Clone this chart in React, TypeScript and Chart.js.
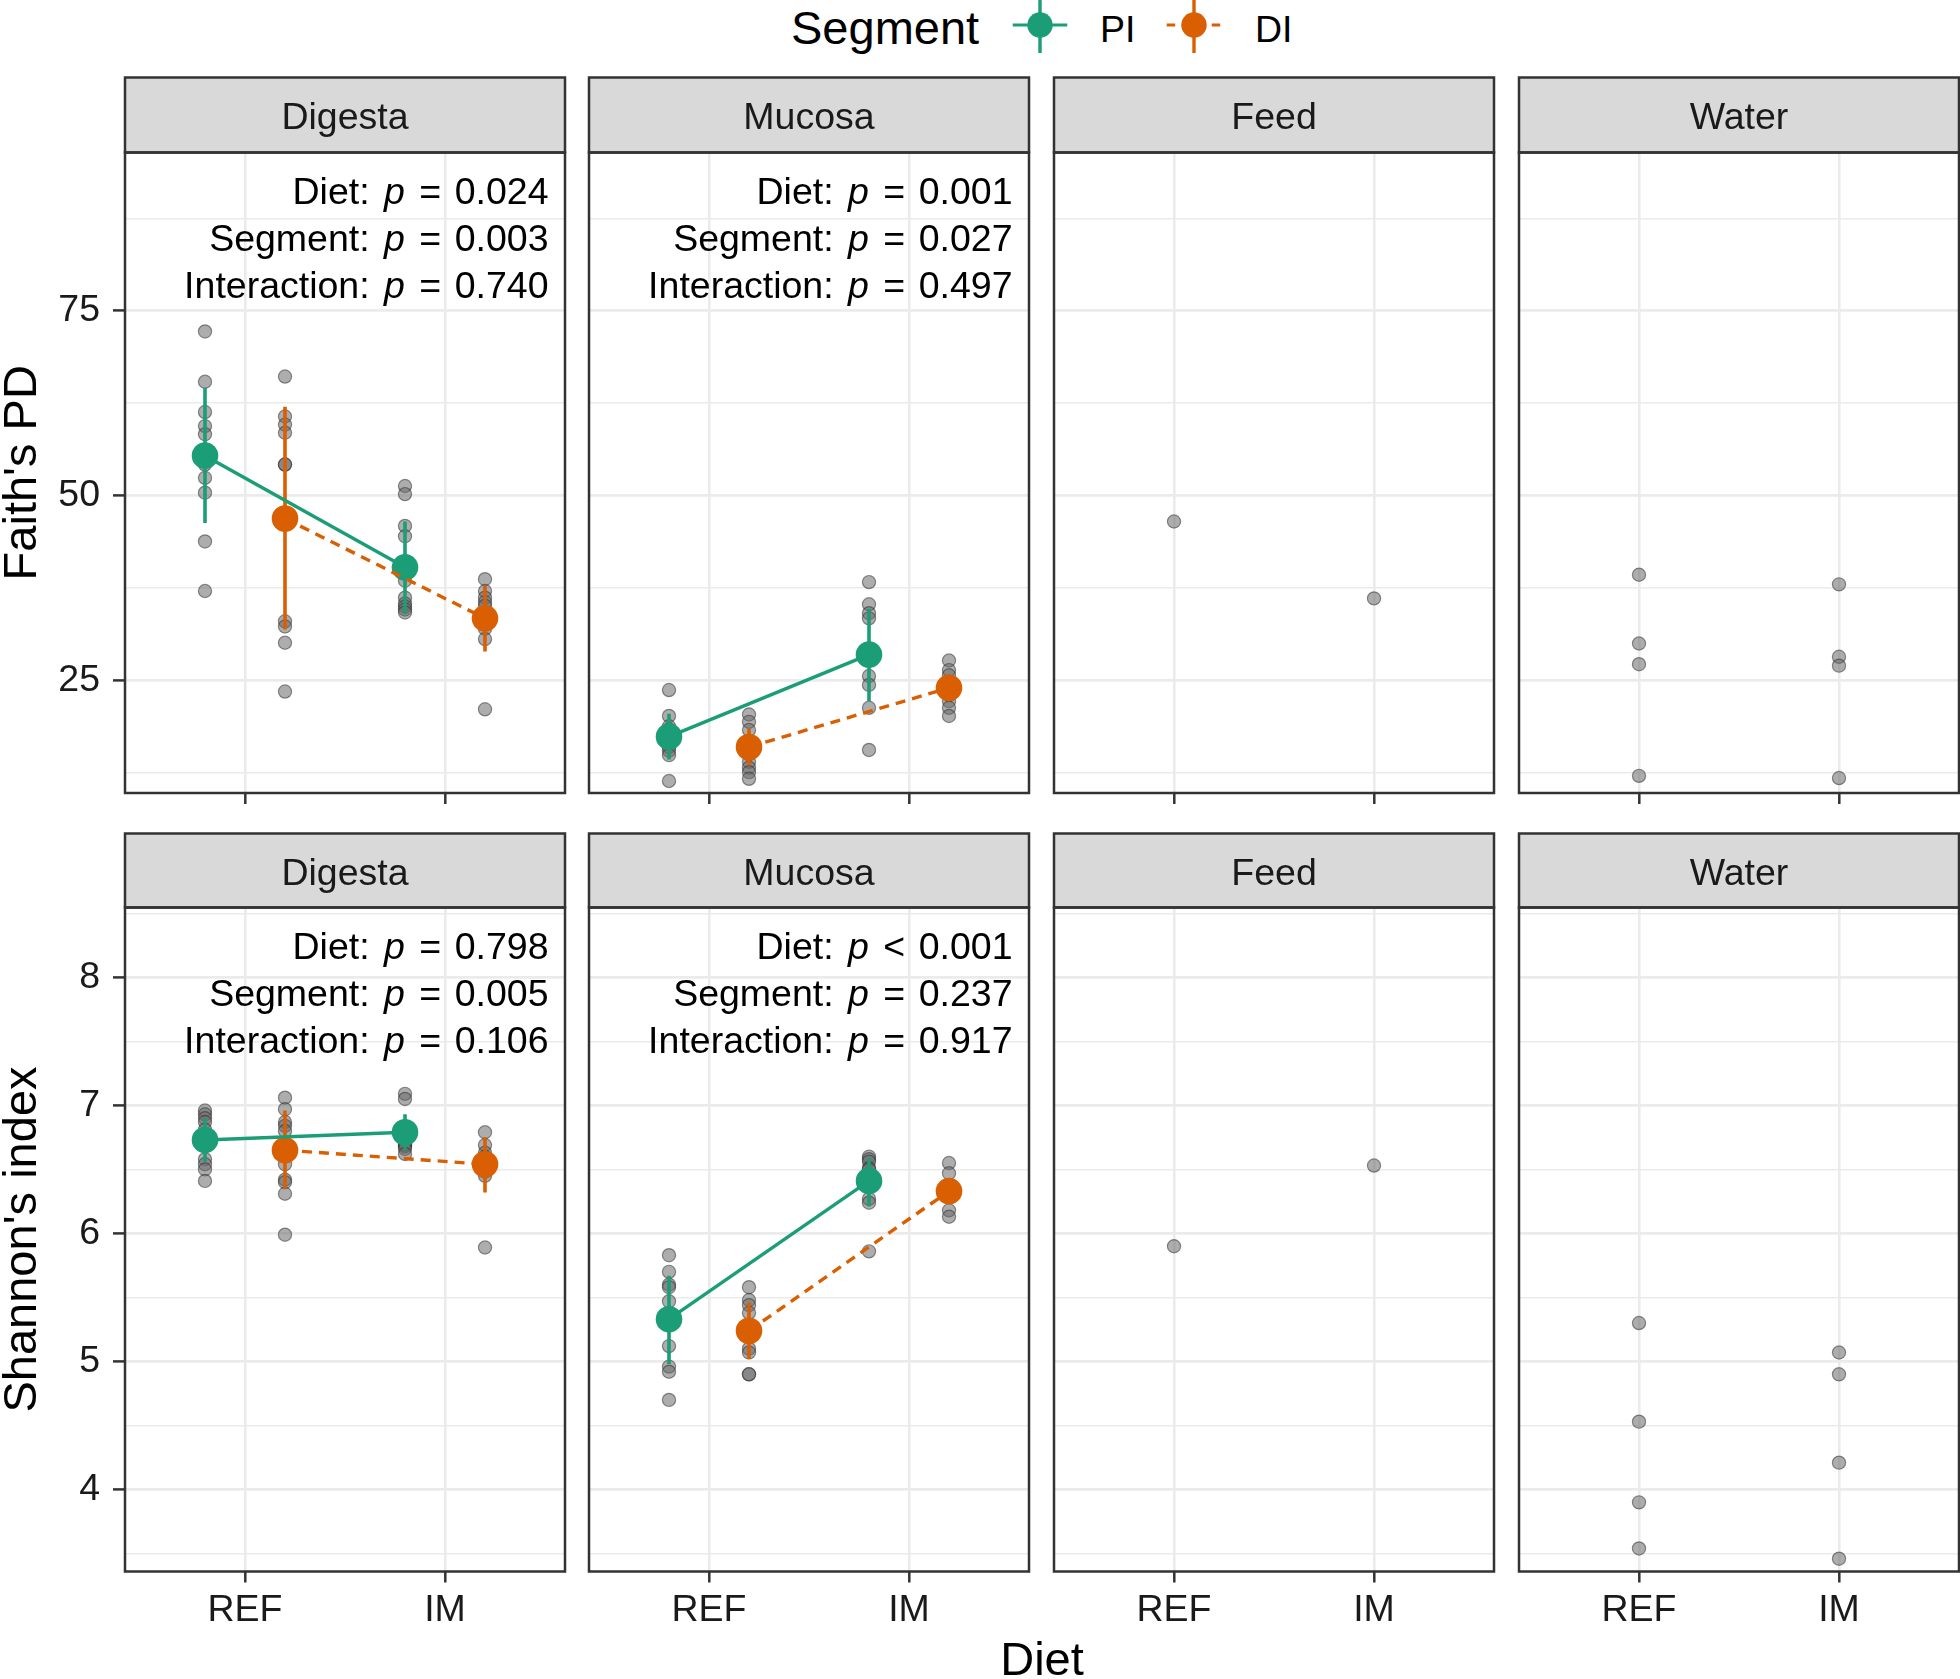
import React, { useEffect, useRef } from 'react';
import { Chart, registerables } from 'chart.js';

Chart.register(...registerables);

const FONT = '"Liberation Sans", Arial, Helvetica, sans-serif';
const TEXT = '#1a1a1a';
const GREEN = '#1B9E77';
const ORANGE = '#D95F02';

// ---------- categories / labels ----------
const dietLevels = ['REF', 'IM'];
const facetNames = ['Digesta', 'Mucosa', 'Feed', 'Water'];
const metricNames = ["Faith's PD", "Shannon's index"];
const segmentNames = ['PI', 'DI'];
const effectNames = ['Diet', 'Segment', 'Interaction'];
const xAxisTitle = 'Diet';
const legendTitle = 'Segment';

// ---------- y axis ticks ----------
const faithTicks = [12.5, 25, 37.5, 50, 62.5, 75, 87.5];
const faithTickLabels = [25, 50, 75];
const faithRange = [9.78, 96.4];
const shannonTicks = [3.5, 4, 4.5, 5, 5.5, 6, 6.5, 7, 7.5, 8, 8.5];
const shannonTickLabels = [4, 5, 6, 7, 8];
const shannonRange = [3.36, 8.545];

// ---------- Faith's PD: raw observations ----------
const faithDigestaPI_REF = [72.2, 65.4, 61.3, 59.4, 58.3, 54.2, 52.4, 50.4, 43.8, 37.1];
const faithDigestaPI_IM = [51.3, 50.2, 45.9, 44.5, 38.5, 36.2, 35.4, 35.0, 34.6, 34.2];
const faithDigestaDI_REF = [66.1, 60.7, 59.6, 58.5, 54.2, 54.2, 33.0, 32.3, 30.1, 23.5];
const faithDigestaDI_IM = [38.7, 37.1, 36.2, 35.6, 35.1, 33.5, 32.0, 30.6, 21.1];
const faithMucosaPI_REF = [23.7, 20.2, 18.8, 18.4, 17.7, 16.0, 15.5, 14.9, 11.4];
const faithMucosaPI_IM = [38.3, 35.3, 34.1, 33.4, 25.6, 24.4, 21.3, 15.6];
const faithMucosaDI_REF = [20.4, 19.4, 18.3, 16.0, 15.0, 14.0, 13.2, 12.6, 11.7];
const faithMucosaDI_IM = [27.7, 26.4, 25.7, 24.5, 23.0, 22.2, 21.3, 20.2];
const faithFeed_REF = [46.5];
const faithFeed_IM = [36.1];
const faithWater_REF = [39.3, 30.0, 27.2, 12.1];
const faithWater_IM = [38.0, 28.2, 27.0, 11.8];

// ---------- Faith's PD: group means and error bars [REF, IM] ----------
const faithDigestaPI_mean = [55.4, 40.3];
const faithDigestaPI_lo = [46.3, 34.0];
const faithDigestaPI_hi = [64.6, 46.5];
const faithDigestaDI_mean = [46.9, 33.4];
const faithDigestaDI_lo = [31.9, 28.9];
const faithDigestaDI_hi = [62.0, 37.8];
const faithMucosaPI_mean = [17.4, 28.5];
const faithMucosaPI_lo = [14.3, 22.2];
const faithMucosaPI_hi = [20.5, 34.7];
const faithMucosaDI_mean = [16.0, 24.0];
const faithMucosaDI_lo = [13.5, 22.2];
const faithMucosaDI_hi = [18.5, 25.8];

// ---------- Shannon's index: raw observations ----------
const shanDigestaPI_REF = [6.96, 6.93, 6.90, 6.87, 6.81, 6.58, 6.54, 6.50, 6.41];
const shanDigestaPI_IM = [7.09, 7.05, 6.70, 6.69, 6.68, 6.66, 6.62];
const shanDigestaDI_REF = [7.06, 6.97, 6.87, 6.84, 6.80, 6.54, 6.42, 6.40, 6.31, 5.99];
const shanDigestaDI_IM = [6.79, 6.69, 6.63, 6.60, 6.51, 6.48, 6.45, 5.89];
const shanMucosaPI_REF = [5.83, 5.70, 5.60, 5.58, 5.47, 5.12, 4.96, 4.92, 4.70];
const shanMucosaPI_IM = [6.60, 6.58, 6.56, 6.51, 6.50, 6.27, 6.24, 5.86];
const shanMucosaDI_REF = [5.58, 5.48, 5.44, 5.38, 5.10, 5.07, 4.90, 4.90];
const shanMucosaDI_IM = [6.55, 6.47, 6.35, 6.30, 6.18, 6.13];
const shanFeed_REF = [5.90];
const shanFeed_IM = [6.53];
const shanWater_REF = [5.30, 4.53, 3.90, 3.54];
const shanWater_IM = [5.07, 4.90, 4.21, 3.46];

// ---------- Shannon's index: group means and error bars [REF, IM] ----------
const shanDigestaPI_mean = [6.73, 6.79];
const shanDigestaPI_lo = [6.56, 6.65];
const shanDigestaPI_hi = [6.90, 6.93];
const shanDigestaDI_mean = [6.65, 6.54];
const shanDigestaDI_lo = [6.35, 6.32];
const shanDigestaDI_hi = [6.96, 6.75];
const shanMucosaPI_mean = [5.33, 6.41];
const shanMucosaPI_lo = [4.98, 6.21];
const shanMucosaPI_hi = [5.67, 6.59];
const shanMucosaDI_mean = [5.24, 6.33];
const shanMucosaDI_lo = [5.02, 6.24];
const shanMucosaDI_hi = [5.46, 6.42];

// ---------- p-value annotations: [operator, value] per effect ----------
const faithDigestaP = [['=', '0.024'], ['=', '0.003'], ['=', '0.740']];
const faithMucosaP = [['=', '0.001'], ['=', '0.027'], ['=', '0.497']];
const shanDigestaP = [['=', '0.798'], ['=', '0.005'], ['=', '0.106']];
const shanMucosaP = [['<', '0.001'], ['=', '0.237'], ['=', '0.917']];

// ---------- layout ----------
const COL_LEFT = [125, 589, 1054, 1519];
const PANEL_W = 440;
const STRIP_TOP = [77.5, 833.5];
const PANEL_TOP = [152.5, 907.5];
const PANEL_BOTTOM = [793, 1571.5];
const Y_AXIS_W = 125;
const DODGE = 0.2;
const TICK_FONT = 37.5;
const TITLE_FONT = 47;

type Raw = { x: number; values: number[] };
type Summary = { color: string; dash: number[]; offset: number; mean: number[]; lo: number[]; hi: number[] };
type Spec = { row: number; col: number; raw: Raw[]; summaries: Summary[]; pLabels: string[][] | null };

function gutPanel(
  row: number, col: number,
  piRef: number[], piIm: number[], diRef: number[], diIm: number[],
  piMean: number[], piLo: number[], piHi: number[],
  diMean: number[], diLo: number[], diHi: number[],
  pLabels: string[][],
): Spec {
  return {
    row, col,
    raw: [
      { x: 1 - DODGE, values: piRef }, { x: 2 - DODGE, values: piIm },
      { x: 1 + DODGE, values: diRef }, { x: 2 + DODGE, values: diIm },
    ],
    summaries: [
      { color: GREEN, dash: [], offset: -DODGE, mean: piMean, lo: piLo, hi: piHi },
      { color: ORANGE, dash: [10, 7], offset: DODGE, mean: diMean, lo: diLo, hi: diHi },
    ],
    pLabels,
  };
}
function singlePanel(row: number, col: number, ref: number[], im: number[]): Spec {
  return { row, col, raw: [{ x: 1, values: ref }, { x: 2, values: im }], summaries: [], pLabels: null };
}

const panels: Spec[] = [
  gutPanel(0, 0, faithDigestaPI_REF, faithDigestaPI_IM, faithDigestaDI_REF, faithDigestaDI_IM,
    faithDigestaPI_mean, faithDigestaPI_lo, faithDigestaPI_hi, faithDigestaDI_mean, faithDigestaDI_lo, faithDigestaDI_hi, faithDigestaP),
  gutPanel(0, 1, faithMucosaPI_REF, faithMucosaPI_IM, faithMucosaDI_REF, faithMucosaDI_IM,
    faithMucosaPI_mean, faithMucosaPI_lo, faithMucosaPI_hi, faithMucosaDI_mean, faithMucosaDI_lo, faithMucosaDI_hi, faithMucosaP),
  singlePanel(0, 2, faithFeed_REF, faithFeed_IM),
  singlePanel(0, 3, faithWater_REF, faithWater_IM),
  gutPanel(1, 0, shanDigestaPI_REF, shanDigestaPI_IM, shanDigestaDI_REF, shanDigestaDI_IM,
    shanDigestaPI_mean, shanDigestaPI_lo, shanDigestaPI_hi, shanDigestaDI_mean, shanDigestaDI_lo, shanDigestaDI_hi, shanDigestaP),
  gutPanel(1, 1, shanMucosaPI_REF, shanMucosaPI_IM, shanMucosaDI_REF, shanMucosaDI_IM,
    shanMucosaPI_mean, shanMucosaPI_lo, shanMucosaPI_hi, shanMucosaDI_mean, shanMucosaDI_lo, shanMucosaDI_hi, shanMucosaP),
  singlePanel(1, 2, shanFeed_REF, shanFeed_IM),
  singlePanel(1, 3, shanWater_REF, shanWater_IM),
];

function geometry(spec: Spec) {
  const { row, col } = spec;
  const left = COL_LEFT[col];
  const right = left + PANEL_W;
  const x0 = col === 0 ? 0 : left - 8;
  const x1 = Math.min(right + 8, 1960);
  const y0 = Math.floor(STRIP_TOP[row]) - 4;
  const y1 = row === 0 ? Math.ceil(PANEL_BOTTOM[0]) + 32 : 1645;
  return {
    x0, y0, w: x1 - x0, h: y1 - y0,
    padLeft: left - x0 - (col === 0 ? Y_AXIS_W : 0),
    yWidth: col === 0 ? Y_AXIS_W : 0,
    padRight: x1 - right,
    padTop: PANEL_TOP[row] - y0,
    xHeight: y1 - PANEL_BOTTOM[row],
    stripTop: STRIP_TOP[row] - y0,
  };
}

function drawAnnotationLine(ctx: CanvasRenderingContext2D, rightX: number, baseY: number, name: string, op: string, value: string) {
  const normal = `${TICK_FONT}px ${FONT}`;
  const italic = `italic ${TICK_FONT}px ${FONT}`;
  // [text, font, extra spacing after]
  const parts: [string, string, number][] = [
    [name + ': ', normal, 4],
    ['p', italic, 4],
    [' ' + op + ' ', normal, 3],
    [value, normal, 0],
  ];
  const widths = parts.map(([t, f, extra]) => { ctx.font = f; return ctx.measureText(t).width + extra; });
  let x = rightX - widths.reduce((a, b) => a + b, 0);
  ctx.textAlign = 'left';
  ctx.textBaseline = 'alphabetic';
  ctx.fillStyle = '#000000';
  parts.forEach(([t, f], i) => { ctx.font = f; ctx.fillText(t, x, baseY); x += widths[i]; });
}

function buildConfig(spec: Spec, g: ReturnType<typeof geometry>) {
  const { row, col } = spec;
  const ticks = row === 0 ? faithTicks : shannonTicks;
  const majors = row === 0 ? faithTickLabels : shannonTickLabels;
  const range = row === 0 ? faithRange : shannonRange;

  const datasets: any[] = [];
  spec.raw.forEach((grp) => {
    datasets.push({
      data: grp.values.map((v) => ({ x: grp.x, y: v })),
      showLine: false,
      pointRadius: 6.6,
      pointBackgroundColor: 'rgba(105,105,105,0.55)',
      pointBorderColor: 'rgba(40,40,40,0.5)',
      pointBorderWidth: 1.2,
      order: 20,
    });
  });
  spec.summaries.forEach((s, si) => {
    [0, 1].forEach((i) => {
      datasets.push({
        data: [{ x: i + 1 + s.offset, y: s.lo[i] }, { x: i + 1 + s.offset, y: s.hi[i] }],
        showLine: true,
        borderColor: s.color,
        borderWidth: 3.6,
        pointRadius: 0,
        order: 9 - si * 2,
      });
    });
    datasets.push({
      data: [0, 1].map((i) => ({ x: i + 1 + s.offset, y: s.mean[i] })),
      showLine: false,
      pointRadius: 13.3,
      pointBackgroundColor: s.color,
      pointBorderWidth: 0,
      order: 8 - si * 2,
    });
    datasets.push({
      data: [0, 1].map((i) => ({ x: i + 1 + s.offset, y: s.mean[i] })),
      showLine: true,
      borderColor: s.color,
      borderWidth: 3.4,
      borderDash: s.dash,
      pointRadius: 0,
      order: 2 - si,
    });
  });

  const decor = {
    id: 'facetDecor' + row + col,
    afterDatasetsDraw(chart: any) {
      const { ctx, chartArea } = chart;
      const l = chartArea.left, r = chartArea.right, t = chartArea.top, b = chartArea.bottom;
      ctx.save();
      // strip
      ctx.fillStyle = '#D9D9D9';
      ctx.fillRect(l, g.stripTop, r - l, t - g.stripTop);
      ctx.strokeStyle = '#333333';
      ctx.lineWidth = 2.5;
      ctx.strokeRect(l, g.stripTop, r - l, t - g.stripTop);
      ctx.fillStyle = TEXT;
      ctx.font = `${TICK_FONT}px ${FONT}`;
      ctx.textAlign = 'center';
      ctx.textBaseline = 'alphabetic';
      ctx.fillText(facetNames[col], (l + r) / 2, g.stripTop + 51.5);
      // panel border
      ctx.strokeRect(l, t, r - l, b - t);
      // annotations
      if (spec.pLabels) {
        const offs = [51.5, 98.7, 145.7];
        spec.pLabels.forEach((p, i) => drawAnnotationLine(ctx, r - 16.5, t + offs[i], effectNames[i], p[0], p[1]));
      }
      ctx.restore();
    },
  };

  const zeroPad = (s: any) => { s.paddingTop = 0; s.paddingBottom = 0; s.paddingLeft = 0; s.paddingRight = 0; };

  return {
    type: 'scatter',
    data: { datasets },
    plugins: [decor],
    options: {
      responsive: false,
      maintainAspectRatio: false,
      animation: false,
      devicePixelRatio: 1,
      events: [],
      layout: { autoPadding: false, padding: { left: g.padLeft, right: g.padRight, top: g.padTop, bottom: 0 } },
      plugins: { legend: { display: false }, tooltip: { enabled: false }, title: { display: false } },
      scales: {
        x: {
          type: 'linear',
          min: 0.4,
          max: 2.6,
          afterBuildTicks: (s: any) => { s.ticks = [1, 2].map((v) => ({ value: v })); },
          afterFit: (s: any) => { s.height = g.xHeight; zeroPad(s); },
          ticks: {
            display: row === 1,
            autoSkip: false,
            maxRotation: 0,
            padding: 6,
            color: TEXT,
            font: { size: TICK_FONT, family: FONT },
            callback: (v: any) => dietLevels[Math.round(v) - 1] ?? '',
          },
          grid: { color: '#EBEBEB', lineWidth: 2.6, drawTicks: true, tickLength: 11, tickWidth: 2.5, tickColor: '#333333' },
          border: { display: false },
        },
        y: {
          type: 'linear',
          min: range[0],
          max: range[1],
          afterBuildTicks: (s: any) => { s.ticks = ticks.map((v) => ({ value: v })); },
          afterFit: (s: any) => { s.width = g.yWidth; zeroPad(s); },
          ticks: {
            display: col === 0,
            autoSkip: false,
            padding: 13,
            color: TEXT,
            font: { size: TICK_FONT, family: FONT },
            callback: (v: any) => (majors.includes(v) ? String(v) : ''),
          },
          grid: {
            color: '#EBEBEB',
            lineWidth: (c: any) => (majors.includes(c.tick?.value) ? 2.8 : 1.4),
            drawTicks: col === 0,
            tickLength: 12,
            tickWidth: 2.5,
            tickColor: (c: any) => (majors.includes(c.tick?.value) ? '#333333' : 'rgba(0,0,0,0)'),
          },
          border: { display: false },
          title: {
            display: col === 0,
            text: metricNames[row],
            color: '#000000',
            padding: 0,
            font: { size: TITLE_FONT, family: FONT, lineHeight: 1 },
          },
        },
      },
    },
  };
}

function Panel({ spec }: { spec: Spec }) {
  const ref = useRef<HTMLCanvasElement | null>(null);
  const g = geometry(spec);
  useEffect(() => {
    if (!ref.current) return;
    const chart = new Chart(ref.current, buildConfig(spec, g) as any);
    return () => chart.destroy();
  }, []);
  return (
    <canvas
      ref={ref}
      width={g.w}
      height={g.h}
      style={{ position: 'absolute', left: g.x0, top: g.y0, width: g.w, height: g.h, display: 'block' }}
    />
  );
}

function Legend() {
  const keys = [
    { cx: 1040, color: GREEN, dash: undefined as string | undefined, label: segmentNames[0], tx: 1100 },
    { cx: 1194, color: ORANGE, dash: '8.5 6.5', label: segmentNames[1], tx: 1255 },
  ];
  return (
    <svg width={1960} height={60} style={{ position: 'absolute', left: 0, top: 0 }}>
      <text x={791} y={44} fontSize={TITLE_FONT} fontFamily={FONT} fill="#000">{legendTitle}</text>
      {keys.map((k) => (
        <g key={k.label}>
          <line x1={k.cx} y1={0} x2={k.cx} y2={53} stroke={k.color} strokeWidth={3.4} />
          <line x1={k.cx - 27.3} y1={25} x2={k.cx + 27.3} y2={25} stroke={k.color} strokeWidth={3.2} strokeDasharray={k.dash} />
          <circle cx={k.cx} cy={25} r={12.7} fill={k.color} />
          <text x={k.tx} y={41.5} fontSize={TICK_FONT} fontFamily={FONT} fill="#000">{k.label}</text>
        </g>
      ))}
    </svg>
  );
}

export default function App() {
  return (
    <div style={{ position: 'absolute', left: 0, top: 0, width: 1960, height: 1679, background: '#ffffff', overflow: 'hidden' }}>
      <Legend />
      {panels.map((p) => (
        <Panel key={`${p.row}-${p.col}`} spec={p} />
      ))}
      <svg width={1960} height={40} style={{ position: 'absolute', left: 0, top: 1639 }}>
        <text x={1042} y={36} textAnchor="middle" fontSize={TITLE_FONT} fontFamily={FONT} fill="#000">{xAxisTitle}</text>
      </svg>
    </div>
  );
}
